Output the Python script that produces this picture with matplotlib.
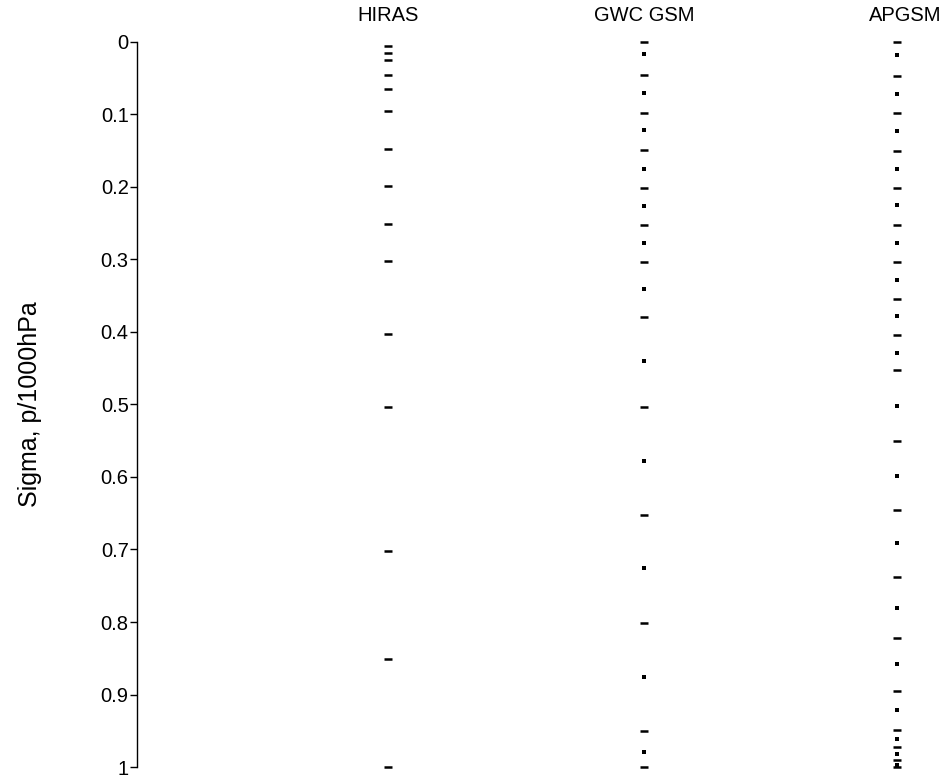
import numpy as np
import matplotlib
matplotlib.use('Agg')
import matplotlib.pyplot as plt

plt.rcParams['font.family'] = ['Liberation Sans', 'DejaVu Sans']

# vertical levels (sigma = p/1000hPa) of each model
models = ['HIRAS', 'GWC GSM', 'APGSM']

hiras = [0.005, 0.015, 0.025, 0.045, 0.065, 0.095, 0.148, 0.199, 0.251,
         0.302, 0.403, 0.503, 0.702, 0.851, 1.0]

gwc_gsm = [0.0, 0.017, 0.046, 0.070, 0.098, 0.122, 0.149, 0.175, 0.201,
           0.226, 0.252, 0.277, 0.303, 0.341, 0.380, 0.440, 0.504, 0.578,
           0.653, 0.726, 0.802, 0.876, 0.951, 0.979, 1.0]

apgsm = [0.0, 0.018, 0.047, 0.072, 0.098, 0.123, 0.150, 0.175, 0.201,
         0.225, 0.253, 0.277, 0.304, 0.328, 0.355, 0.378, 0.404, 0.429,
         0.453, 0.502, 0.550, 0.598, 0.645, 0.691, 0.738, 0.780, 0.822,
         0.858, 0.895, 0.922, 0.949, 0.961, 0.973, 0.982, 0.990, 0.997, 1.0]

yticks = [0, 0.1, 0.2, 0.3, 0.4, 0.5, 0.6, 0.7, 0.8, 0.9, 1]
ytick_labels = ['0', '0.1', '0.2', '0.3', '0.4', '0.5', '0.6', '0.7', '0.8', '0.9', '1']

fig = plt.figure(figsize=(9.46, 7.79), dpi=100)
ax = fig.add_axes([0.1448, 0.0154, 0.8552, 0.9307])

xpos = [0.31, 0.627, 0.94]
levels = [hiras, gwc_gsm, apgsm]

for k, (name, lev) in enumerate(zip(models, levels)):
    lev = np.asarray(lev)
    x = np.full(len(lev), xpos[k])
    if k == 0:
        ax.plot(x, lev, ls='none', marker='_', ms=6, mew=1.8, color='k', clip_on=False)
    else:
        # alternate levels print as dashes and dots
        idx = np.arange(len(lev))
        dash = idx % 2 == 0
        ax.plot(x[dash], lev[dash], ls='none', marker='_', ms=6, mew=1.8,
                color='k', clip_on=False)
        ax.plot(x[~dash], lev[~dash], ls='none', marker='s', ms=2.4, mew=0,
                color='k', clip_on=False)
    ax.text(xpos[k] + (0.0 if k < 2 else 0.01), 1.029, name,
            transform=ax.get_xaxis_transform(),
            ha='center', va='baseline', fontsize=14.5)

ax.set_xlim(0, 1)
ax.set_ylim(1, 0)
ax.set_yticks(yticks)
ax.set_yticklabels(ytick_labels)
ax.set_xticks([])
for s in ['top', 'right', 'bottom']:
    ax.spines[s].set_visible(False)
ax.spines['left'].set_linewidth(1.0)
ax.tick_params(axis='y', direction='out', length=5, width=1, pad=1, labelsize=14.5)
ax.set_ylabel('Sigma, p/1000hPa', fontsize=18, labelpad=42)

fig.savefig('out.png', dpi=100)
